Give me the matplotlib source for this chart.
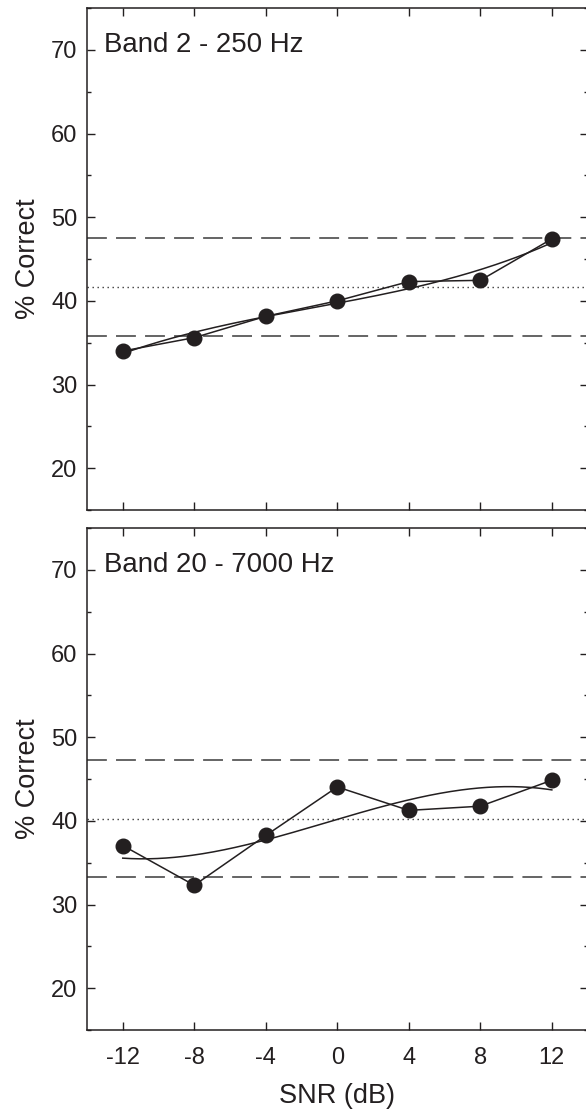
import numpy as np
import matplotlib
matplotlib.use('Agg')
import matplotlib.pyplot as plt
from matplotlib.ticker import MultipleLocator

plt.rcParams['font.family'] = ['Liberation Sans', 'DejaVu Sans']

snr = [-12, -8, -4, 0, 4, 8, 12]
band_labels = ['Band 2 - 250 Hz', 'Band 20 - 7000 Hz']
correct_band2 = [34.0, 35.6, 38.15, 40.0, 42.3, 42.45, 47.4]
correct_band20 = [37.05, 32.3, 38.25, 44.05, 41.25, 41.75, 44.85]
upper_limits = [47.47, 47.3]
lower_limits = [35.75, 33.25]
chance_levels = [41.6, 40.27]
xticks = [-12, -8, -4, 0, 4, 8, 12]
xticklabels = ['-12', '-8', '-4', '0', '4', '8', '12']
yticks = [20, 30, 40, 50, 60, 70]

ink = '#231f20'
W, H = 586, 1111
fig = plt.figure(figsize=(W / 100, H / 100), dpi=100)

panels = [(8, 510), (528, 1030)]
series = [correct_band2, correct_band20]

for i, (top, bot) in enumerate(panels):
    ax = fig.add_axes([87 / W, (H - bot) / H, 501.5 / W, (bot - top) / H])
    y = series[i]

    ax.axhline(upper_limits[i], color='#3a3a3a', lw=1.1, linestyle=(0, (13, 6)))
    ax.axhline(lower_limits[i], color='#3a3a3a', lw=1.1, linestyle=(0, (13, 6)))
    ax.axhline(chance_levels[i], color='#3a3a3a', lw=1.0, linestyle=(0, (1, 2.6)))

    # cubic trend through the points
    coef = np.polyfit(snr, y, 3)
    xs = np.linspace(snr[0], snr[-1], 200)
    ax.plot(xs, np.polyval(coef, xs), color=ink, lw=1.1)

    ax.plot(snr, y, color=ink, lw=1.1, marker='o', markersize=10.5,
            markerfacecolor=ink, markeredgecolor=ink, zorder=5)

    ax.text(0.034, 0.912, band_labels[i], transform=ax.transAxes,
            fontsize=19.9, color=ink, va='baseline', ha='left')

    ax.set_xlim(-14, 14.05)
    ax.set_ylim(15, 75)
    ax.set_xticks(xticks)
    ax.set_yticks(yticks)
    ax.yaxis.set_minor_locator(MultipleLocator(5))
    ax.tick_params(axis='both', which='both', direction='in', colors=ink,
                   top=True, right=True, labelsize=17, width=1.0)
    ax.tick_params(axis='both', which='major', length=5.5)
    ax.tick_params(axis='y', which='minor', length=3)
    ax.tick_params(axis='y', pad=7)
    ax.tick_params(axis='x', pad=12.5)
    for sp in ax.spines.values():
        sp.set_color(ink)
        sp.set_linewidth(1.1)

    ax.set_ylabel('% Correct', fontsize=19.5, color=ink)
    ax.yaxis.set_label_coords(-0.092, 0.5)

    if i == 1:
        ax.set_xticklabels(xticklabels)
        ax.set_xlabel('SNR (dB)', fontsize=19.5, color=ink)
        ax.xaxis.set_label_coords(0.499, -0.106)
    else:
        ax.set_xticklabels([])

fig.savefig('out.png', dpi=100)
